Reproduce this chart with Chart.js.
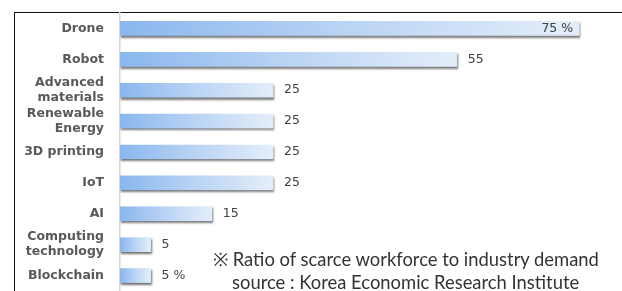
<!DOCTYPE html>
<html>
<head>
<meta charset="utf-8">
<script src="https://cdn.jsdelivr.net/npm/chart.js@4.4.1/dist/chart.umd.min.js"></script>
<style>
    html, body { margin: 0; padding: 0; background: #fff; }
    #wrap { position: relative; width: 622px; height: 291px; overflow: hidden; }
    #frame { position: absolute; left: 14px; top: 12px; width: 700px; height: 300px;
             border-top: 1.5px solid #111; border-left: 1.5px solid #111; }
    canvas { position: absolute; left: 0; top: 0; }
    .note { position: absolute; font-family: Lato, sans-serif; font-size: 18.4px; color: #333; white-space: nowrap; }
</style>
</head>
<body>
<div id="wrap">
    <div id="frame"></div>
    <canvas id="myChart" width="622" height="291"></canvas>
    <div class="note" style="left:213px; top:246px;">※ Ratio of scarce workforce to industry demand</div>
    <div class="note" style="left:232px; top:271px;">source : Korea Economic Research Institute</div>
</div>
<script>
// categories and values
var categories = ["Drone", "Robot", ["Advanced", "materials"], ["Renewable", "Energy"], "3D printing", "IoT", "AI", ["Computing", "technology"], "Blockchain"];
var shares = [75, 55, 25, 25, 25, 25, 15, 5, 5];
var valueLabels = ["75 %", "55", "25", "25", "25", "25", "15", "5", "5 %"];

function barGradient(context) {
    var chart = context.chart;
    var x = chart.scales.x;
    if (!x || context.raw === undefined) {
        return '#a9c8f0';
    }
    var x0 = x.getPixelForValue(0);
    var x1 = x.getPixelForValue(context.raw);
    if (!isFinite(x0) || !isFinite(x1) || x1 <= x0) {
        return '#a9c8f0';
    }
    var g = chart.ctx.createLinearGradient(x0, 0, x1, 0);
    g.addColorStop(0, '#8ab7ee');
    g.addColorStop(0.5, '#bad4f4');
    g.addColorStop(1, '#e4eefa');
    return g;
}

const barShadow = {
    id: 'barShadow',
    beforeDatasetsDraw: function (chart) {
        var ctx = chart.ctx;
        ctx.save();
        ctx.shadowColor = 'rgba(0,0,0,0.55)';
        ctx.shadowBlur = 2;
        ctx.shadowOffsetX = 1;
        ctx.shadowOffsetY = 2;
    },
    afterDatasetsDraw: function (chart) {
        chart.ctx.restore();
    }
};

const valueText = {
    id: 'valueText',
    afterDraw: function (chart) {
        var ctx = chart.ctx;
        var meta = chart.getDatasetMeta(0);
        ctx.save();
        ctx.font = '12.5px "DejaVu Sans", sans-serif';
        ctx.fillStyle = '#404040';
        ctx.textBaseline = 'middle';
        meta.data.forEach(function (bar, i) {
            if (i === 0) {
                ctx.textAlign = 'right';
                ctx.fillText(valueLabels[i], bar.x - 6, bar.y);
            } else {
                ctx.textAlign = 'left';
                ctx.fillText(valueLabels[i], bar.x + 11, bar.y);
            }
        });
        ctx.restore();
    }
};

const config = {
    type: 'bar',
    data: {
        labels: categories,
        datasets: [{
            data: shares,
            backgroundColor: barGradient,
            borderWidth: 0,
            barThickness: 14
        }]
    },
    options: {
        indexAxis: 'y',
        responsive: false,
        animation: false,
        layout: { padding: { top: 13, right: 11, left: 0, bottom: 0 } },
        plugins: {
            legend: { display: false },
            tooltip: { enabled: false }
        },
        scales: {
            x: {
                display: false,
                min: 0,
                max: 80.2
            },
            y: {
                grid: { display: false, drawTicks: false },
                border: { display: true, color: '#d6d6d6', width: 1.5 },
                ticks: {
                    autoSkip: false,
                    color: '#595959',
                    padding: 16,
                    font: { family: '"DejaVu Sans", sans-serif', size: 12.5, weight: 'bold', lineHeight: 1.2 }
                },
                afterFit: function (scale) {
                    scale.width = 120;
                    scale.paddingTop = 0;
                    scale.paddingBottom = 0;
                }
            }
        }
    },
    plugins: [barShadow, valueText]
};

var myChart = new Chart(document.getElementById('myChart'), config);
</script>
</body>
</html>
